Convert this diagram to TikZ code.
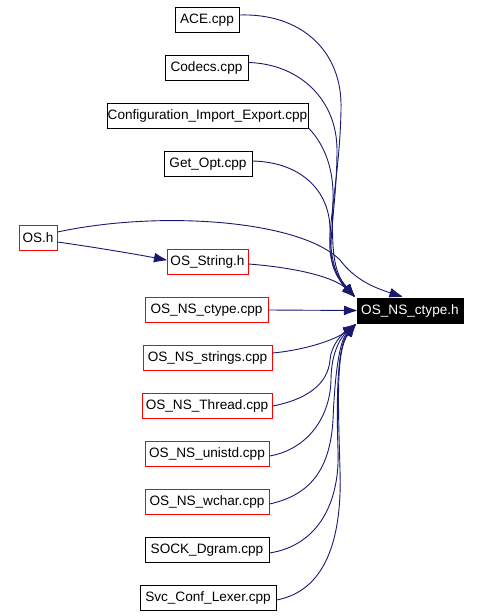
\documentclass[tikz,border=0pt]{standalone}
\usepackage{fontspec}
\setmainfont{Liberation Sans}
\usetikzlibrary{arrows.meta}
\definecolor{edgeblue}{RGB}{25,25,112}
\definecolor{boxred}{RGB}{255,0,0}
\begin{document}
\begin{tikzpicture}[x=1pt,y=-1pt,
  box/.style={draw=black,line width=1pt,rectangle,inner sep=0pt,minimum height=25pt,
    font=\fontsize{13.6pt}{16pt}\selectfont},
  redbox/.style={box,draw=boxred},
  tgt/.style={box,draw=black,fill=black,text=white},
  dep/.style={draw=edgeblue,line width=0.9pt,
    -{Latex[length=14pt,width=10pt,round=false]}}]
\useasboundingbox[fill=white] (0,0) rectangle (480,616);

\node[box,minimum width=64pt] (ace) at (207,20) {ACE.cpp};
\node[box,minimum width=83pt] (codecs) at (206.5,67.5) {Codecs.cpp};
\node[box,minimum width=201pt] (config) at (207.5,116) {Configuration\_Import\_Export.cpp};
\node[box,minimum width=88pt] (getopt) at (208,164) {Get\_Opt.cpp};
\node[redbox,minimum width=38pt] (os) at (38,238) {OS.h};
\node[redbox,minimum width=81pt] (osstr) at (207.5,262) {OS\_String.h};
\node[redbox,minimum width=123pt] (ctcpp) at (206.5,310) {OS\_NS\_ctype.cpp};
\node[tgt,minimum width=106pt] (cth) at (410,310.5) {OS\_NS\_ctype.h};
\node[redbox,minimum width=129pt] (strs) at (207.5,358) {OS\_NS\_strings.cpp};
\node[redbox,minimum width=130pt] (thr) at (207,406) {OS\_NS\_Thread.cpp};
\node[redbox,minimum width=124pt] (uni) at (207,454) {OS\_NS\_unistd.cpp};
\node[redbox,minimum width=124pt] (wch) at (207,502) {OS\_NS\_wchar.cpp};
\node[box,minimum width=124pt] (sock) at (207,550) {SOCK\_Dgram.cpp};
\node[box,minimum width=136pt] (svc) at (208,598) {Svc\_Conf\_Lexer.cpp};

\coordinate (tipT) at ([xshift=-2pt,yshift=1pt]cth.north west);
\coordinate (tipB) at ([xshift=-1pt,yshift=-1pt]cth.south west);
\coordinate (tipO) at ([xshift=-8pt,yshift=1pt]cth.north);

\draw[dep] ([yshift=5pt]ace.east) .. controls (300,13) and (343,50) .. (341,110)
  .. controls (340,170) and (328,225) .. (330,250) .. controls (331,270) and (345,285) .. (tipT);
\draw[dep] ([yshift=5pt]codecs.east) .. controls (300,64) and (337,100) .. (337,150)
  .. controls (337,200) and (328,240) .. (332,262) .. controls (335,278) and (346,287) .. (tipT);
\draw[dep] ([yshift=-12pt]config.east) .. controls (325,145) and (334,170) .. (333,200)
  .. controls (332,240) and (331,270) .. (tipT);
\draw[dep] ([yshift=3pt]getopt.east) .. controls (300,162) and (330,190) .. (330,230)
  .. controls (330,265) and (340,283) .. (tipT);
\draw[dep] ([yshift=6pt]os.east) .. controls (160,210) and (300,220) .. (340,260)
  .. controls (355,280) and (375,288) .. (tipO);
\draw[dep] ([yshift=-4pt]os.east) .. controls (100,248) and (140,255) .. ([yshift=2pt]osstr.west);
\draw[dep] ([yshift=-2pt]osstr.east) .. controls (300,268) and (335,278) .. (tipT);
\draw[dep] (ctcpp.east) -- (cth.west);
\draw[dep] ([yshift=5pt]strs.east) .. controls (305,350) and (335,340) .. (tipB);
\draw[dep] (thr.east) .. controls (305,400) and (328,385) .. (330,360)
  .. controls (331,345) and (343,333) .. (tipB);
\draw[dep] ([yshift=-2pt]uni.east) .. controls (305,450) and (330,420) .. (331,380)
  .. controls (331,350) and (343,335) .. (tipB);
\draw[dep] ([yshift=-2pt]wch.east) .. controls (310,495) and (330,470) .. (333,420)
  .. controls (335,370) and (340,340) .. (tipB);
\draw[dep] ([yshift=-3pt]sock.east) .. controls (320,545) and (340,500) .. (338,450)
  .. controls (336,390) and (338,345) .. (tipB);
\draw[dep] ([yshift=-2pt]svc.east) .. controls (330,590) and (342,530) .. (340,470)
  .. controls (338,400) and (336,350) .. (tipB);
\end{tikzpicture}
\end{document}
